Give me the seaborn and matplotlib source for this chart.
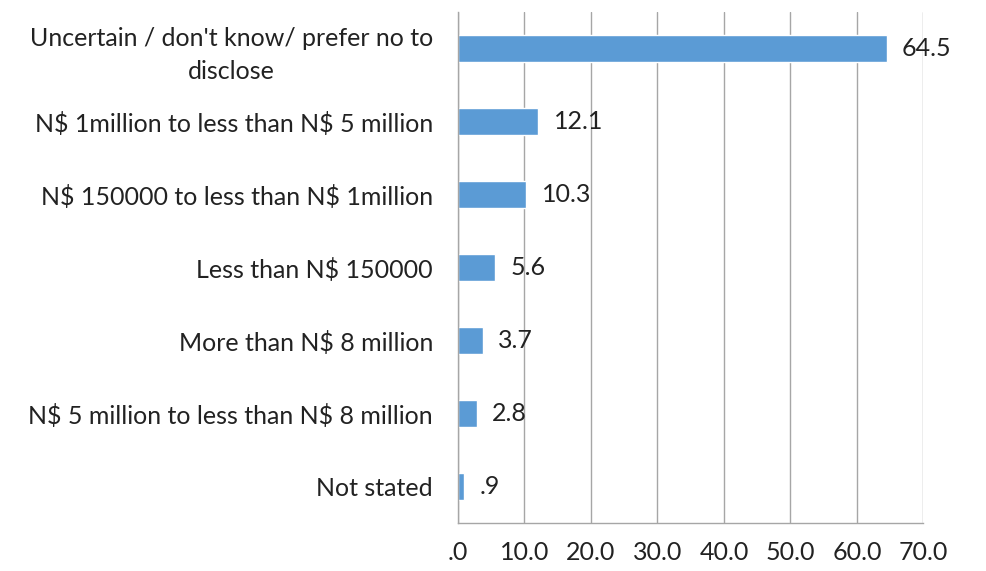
import matplotlib
matplotlib.use("Agg")
import matplotlib.pyplot as plt
import seaborn as sns
import pandas as pd

categorias = [
    "Uncertain / don't know/ prefer no to\ndisclose",
    "N$ 1million to less than N$ 5 million",
    "N$ 150000 to less than N$ 1million",
    "Less than N$ 150000",
    "More than N$ 8 million",
    "N$ 5 million to less than N$ 8 million",
    "Not stated",
]
percentuais = [64.5, 12.1, 10.3, 5.6, 3.7, 2.8, 0.9]
ticks_x = [0, 10, 20, 30, 40, 50, 60, 70]


def fmt(v):
    # estilo Excel/SPSS: sem zero antes do ponto
    s = f"{v:.1f}"
    return s[1:] if s.startswith("0") else s


df = pd.DataFrame({"categoria": categorias, "valor": percentuais})

sns.set_style("white")
plt.rcParams["font.family"] = ["Lato", "DejaVu Sans"]
plt.rcParams["text.parse_math"] = False

fs = 18
fig = plt.figure(figsize=(9.86, 5.71), dpi=100)
ax = fig.add_axes([0.4645, 0.084, 0.472, 0.895])

sns.barplot(data=df, x="valor", y="categoria", color="#5B9BD5",
            width=0.37, ax=ax, saturation=1)

for p, v in zip(ax.patches, percentuais):
    ax.annotate(fmt(v), (p.get_width(), p.get_y() + p.get_height() / 2),
                xytext=(11, 0), textcoords="offset points",
                ha="left", va="center", fontsize=fs, color="#222222")

ax.set_xlim(0, 70)
ax.set_ylim(len(categorias) - 0.5, -0.5)
ax.set_xticks(ticks_x)
ax.set_xticklabels([fmt(t) for t in ticks_x], fontsize=fs, color="#222222")
ax.set_yticks([i - 0.5 for i in range(len(categorias) + 1)], minor=False)
ax.set_yticklabels([])
ax.set_yticks(range(len(categorias)), minor=True)
ax.set_yticklabels(categorias, minor=True, fontsize=fs, color="#222222")
for lbl in ax.get_yticklabels(minor=True):
    lbl.set_multialignment("center")
    lbl.set_linespacing(1.5)
ax.tick_params(axis="y", which="minor", length=0, pad=18)
ax.tick_params(axis="y", which="major", length=6, color="#9a9a9a", direction="out")
ax.tick_params(axis="x", length=6, color="#9a9a9a", direction="out", pad=7)

ax.grid(axis="x", color="#a6a6a6", linewidth=1)
ax.set_axisbelow(True)
for lado in ["top", "right"]:
    ax.spines[lado].set_visible(False)
for lado in ["left", "bottom"]:
    ax.spines[lado].set_color("#a6a6a6")
    ax.spines[lado].set_linewidth(1)
ax.set_xlabel("")
ax.set_ylabel("")

fig.savefig("out.png", dpi=100)
